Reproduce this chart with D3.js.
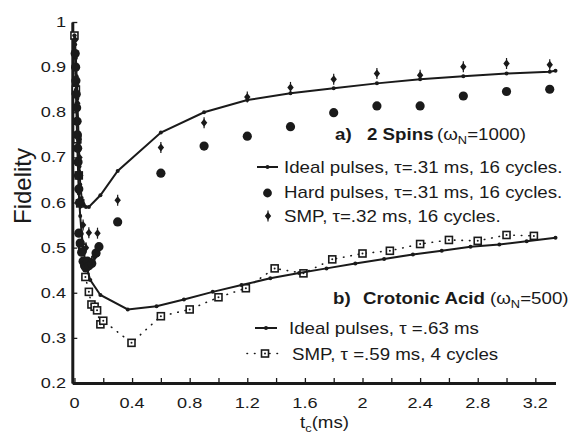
<!DOCTYPE html>
<html>
<head>
<meta charset="utf-8">
<script src="https://cdn.jsdelivr.net/npm/d3@7"></script>
<style>
  body { margin: 0; background: #fff; }
  svg { display: block; font-family: "Liberation Sans", Arial, sans-serif; }
</style>
</head>
<body>
<div id="chart"></div>
<script>
// fidelity vs t_c
// [t_c (ms), fidelity]
const idealSpins = [
  [0, 0.97], [0.005, 0.95], [0.01, 0.92], [0.015, 0.88], [0.02, 0.83], [0.025, 0.78],
  [0.03, 0.73], [0.035, 0.68], [0.04, 0.64], [0.05, 0.61], [0.065, 0.595], [0.08, 0.59],
  [0.1, 0.59], [0.18, 0.616], [0.3, 0.67], [0.6, 0.755], [0.9, 0.80], [1.2, 0.827],
  [1.5, 0.842], [1.8, 0.853], [2.1, 0.864], [2.4, 0.873], [2.7, 0.880], [3.0, 0.886],
  [3.3, 0.890], [3.34, 0.892]
];
const hardSpins = [
  [0.005, 0.93], [0.008, 0.90], [0.01, 0.87], [0.012, 0.84], [0.015, 0.81], [0.018, 0.78],
  [0.02, 0.75], [0.022, 0.72], [0.025, 0.69], [0.028, 0.66], [0.03, 0.63], [0.035, 0.60],
  [0.03, 0.532], [0.04, 0.51], [0.05, 0.49], [0.06, 0.47], [0.07, 0.46], [0.08, 0.455],
  [0.09, 0.47], [0.1, 0.46], [0.12, 0.465], [0.15, 0.488], [0.17, 0.502], [0.3, 0.557],
  [0.6, 0.665], [0.9, 0.725], [1.2, 0.747], [1.5, 0.768], [1.8, 0.799], [2.1, 0.814],
  [2.4, 0.814], [2.7, 0.836], [3.0, 0.846], [3.3, 0.851]
];
const smpSpins = [
  [0.005, 0.96], [0.01, 0.90], [0.015, 0.86], [0.02, 0.82], [0.025, 0.78], [0.03, 0.74],
  [0.035, 0.70], [0.04, 0.66], [0.05, 0.60], [0.06, 0.55], [0.03, 0.506], [0.08, 0.50],
  [0.1, 0.533], [0.12, 0.47], [0.14, 0.48], [0.16, 0.532], [0.3, 0.605], [0.6, 0.722],
  [0.9, 0.777], [1.2, 0.834], [1.5, 0.855], [1.8, 0.873], [2.1, 0.886], [2.4, 0.882],
  [2.7, 0.901], [3.0, 0.908], [3.3, 0.905]
];
const idealCrotonic = [
  [0, 0.97], [0.01, 0.85], [0.02, 0.72], [0.03, 0.62], [0.04, 0.57], [0.05, 0.53],
  [0.065, 0.49], [0.08, 0.46], [0.11, 0.428], [0.18, 0.395], [0.37, 0.363], [0.57, 0.370],
  [0.76, 0.385], [0.96, 0.402], [1.16, 0.417], [1.36, 0.432], [1.56, 0.444], [1.75, 0.454],
  [1.95, 0.465], [2.15, 0.475], [2.35, 0.485], [2.55, 0.493], [2.75, 0.502], [2.95, 0.507],
  [3.14, 0.514], [3.34, 0.522]
];
const smpCrotonic = [
  [0, 0.97], [0.01, 0.85], [0.02, 0.74], [0.03, 0.66], [0.04, 0.598], [0.055, 0.50],
  [0.076, 0.435], [0.1, 0.402], [0.118, 0.374], [0.14, 0.369], [0.157, 0.361], [0.18, 0.33],
  [0.2, 0.338], [0.396, 0.289], [0.6, 0.348], [0.8, 0.363], [1.0, 0.39], [1.19, 0.41],
  [1.39, 0.454], [1.59, 0.443], [1.79, 0.474], [2.0, 0.487], [2.19, 0.493], [2.4, 0.508],
  [2.6, 0.517], [2.8, 0.515], [3.0, 0.528], [3.19, 0.526]
];

const xTicks = [0, 0.2, 0.4, 0.6, 0.8, 1, 1.2, 1.4, 1.6, 1.8, 2, 2.2, 2.4, 2.6, 2.8, 3, 3.2];
const xTickLabels = ["0", "0.4", "0.8", "1.2", "1.6", "2", "2.4", "2.8", "3.2"];
const yTicks = [0.2, 0.3, 0.4, 0.5, 0.6, 0.7, 0.8, 0.9, 1];
const yTickLabels = ["0.2", "0.3", "0.4", "0.5", "0.6", "0.7", "0.8", "0.9", "1"];

const width = 570, height = 440;
const ink = "#1a1a1a";
const stretch = 1.17; // text in the figure is a bit wide

const svg = d3.select("#chart").append("svg")
  .attr("width", width)
  .attr("height", height);

const xScale = d3.scaleLinear().domain([-0.015, 3.34]).range([72.3, 555.5]);
const yScale = d3.scaleLinear().domain([0.2, 1]).range([383, 22]);

// stretched text helper
function label(x, y, anchor, size, weight) {
  return svg.append("text")
    .attr("transform", `translate(${x},${y}) scale(${stretch},1)`)
    .attr("text-anchor", anchor)
    .attr("font-size", size + "px")
    .attr("font-weight", weight || "normal")
    .attr("fill", ink);
}

// axes
const xAxis = svg.append("g")
  .attr("transform", `translate(0,${yScale(0.2)})`)
  .call(d3.axisBottom(xScale).tickValues(xTicks).tickSizeInner(-5).tickSizeOuter(0).tickFormat(""));
const yAxis = svg.append("g")
  .attr("transform", `translate(${xScale.range()[0]},0)`)
  .call(d3.axisLeft(yScale).tickValues(yTicks).tickSizeInner(-5).tickSizeOuter(0).tickFormat(""));
[xAxis, yAxis].forEach(a => {
  a.select(".domain").attr("stroke", ink).attr("stroke-width", 3);
  a.selectAll(".tick line").attr("stroke", ink).attr("stroke-width", 1.3);
});

xTickLabels.forEach(t => {
  label(xScale(+t), 408, "middle", 15.5).text(t);
});
yTickLabels.forEach(t => {
  label(66, yScale(+t) + 5, "end", 15.5).text(t);
});

// axis titles
svg.append("text")
  .attr("transform", `translate(31,${186}) rotate(-90)`)
  .attr("text-anchor", "middle")
  .attr("font-size", "24px")
  .attr("fill", ink)
  .text("Fidelity");

const xt = label(300, 428, "start", 16);
xt.append("tspan").text("t");
xt.append("tspan").attr("font-size", "11px").attr("dy", 4).text("c");
xt.append("tspan").attr("dy", -4).text("(ms)");

const line = d3.line().x(d => xScale(d[0])).y(d => yScale(d[1]));

// crotonic SMP: dotted line with open squares
svg.append("path")
  .datum(smpCrotonic)
  .attr("d", line)
  .attr("fill", "none")
  .attr("stroke", ink)
  .attr("stroke-width", 1.6)
  .attr("stroke-linecap", "round")
  .attr("stroke-dasharray", "0.5,7");

function squareMark(sel) {
  sel.append("rect")
    .attr("x", -3.5).attr("y", -3.5).attr("width", 7).attr("height", 7)
    .attr("fill", "#fff").attr("stroke", ink).attr("stroke-width", 1.6);
  sel.append("circle").attr("r", 1).attr("fill", ink);
}

svg.append("g").selectAll("g")
  .data(smpCrotonic)
  .join("g")
  .attr("transform", d => `translate(${xScale(d[0])},${yScale(d[1])})`)
  .call(squareMark);

// solid ideal lines with small dots
[idealSpins, idealCrotonic].forEach(series => {
  svg.append("path")
    .datum(series)
    .attr("d", line)
    .attr("fill", "none")
    .attr("stroke", ink)
    .attr("stroke-width", 2);
  svg.append("g").selectAll("circle")
    .data(series)
    .join("circle")
    .attr("cx", d => xScale(d[0]))
    .attr("cy", d => yScale(d[1]))
    .attr("r", 2)
    .attr("fill", ink);
});

// hard pulses: filled circles
svg.append("g").selectAll("circle")
  .data(hardSpins)
  .join("circle")
  .attr("cx", d => xScale(d[0]))
  .attr("cy", d => yScale(d[1]))
  .attr("r", 4.6)
  .attr("fill", ink);

// SMP 2 spins: small diamonds
const diamond = "M0,-4L3.2,0L0,4L-3.2,0Z";
function diamondMark(sel) {
  sel.append("path").attr("d", diamond).attr("fill", ink);
  sel.append("line").attr("y1", -5.5).attr("y2", 5.5).attr("stroke", ink).attr("stroke-width", 1.2);
}
svg.append("g").selectAll("g")
  .data(smpSpins)
  .join("g")
  .attr("transform", d => `translate(${xScale(d[0])},${yScale(d[1])})`)
  .call(diamondMark);

// legend titles
function omega(x, y, val) {
  const t = label(x, y, "start", 16);
  t.append("tspan").text("(ω");
  t.append("tspan").attr("font-size", "11px").attr("dy", 4).text("N");
  t.append("tspan").attr("dy", -4).text("=" + val + ")");
}
label(335, 140, "start", 16, "bold").text("a)");
label(367, 140, "start", 16, "bold").text("2 Spins");
omega(437, 140, "1000");

svg.append("line").attr("x1", 257).attr("x2", 278).attr("y1", 167).attr("y2", 167)
  .attr("stroke", ink).attr("stroke-width", 2);
svg.append("circle").attr("cx", 267.5).attr("cy", 167).attr("r", 2).attr("fill", ink);
label(284, 173, "start", 16).text("Ideal pulses, τ=.31 ms, 16 cycles.");

svg.append("circle").attr("cx", 267.5).attr("cy", 193).attr("r", 4.4).attr("fill", ink);
label(284, 198, "start", 16).text("Hard pulses, τ=.31 ms, 16 cycles.");

svg.append("g").attr("transform", "translate(268,216)").call(diamondMark);
label(284, 222, "start", 16).text("SMP, τ=.32 ms, 16 cycles.");

label(333, 304, "start", 16, "bold").text("b)");
label(363, 304, "start", 16, "bold").text("Crotonic Acid");
omega(490, 304, "500");

svg.append("line").attr("x1", 255).attr("x2", 277).attr("y1", 328).attr("y2", 328)
  .attr("stroke", ink).attr("stroke-width", 2);
svg.append("circle").attr("cx", 266).attr("cy", 328).attr("r", 2).attr("fill", ink);
label(289, 334, "start", 16).text("Ideal pulses, τ =.63 ms");

svg.append("line").attr("x1", 247).attr("x2", 284).attr("y1", 353.5).attr("y2", 353.5)
  .attr("stroke", ink).attr("stroke-width", 1.6)
  .attr("stroke-linecap", "round").attr("stroke-dasharray", "0.5,7");
svg.append("g").attr("transform", "translate(265,353.5)").call(squareMark);
label(292, 360, "start", 16).text("SMP, τ =.59 ms, 4 cycles");
</script>
</body>
</html>
